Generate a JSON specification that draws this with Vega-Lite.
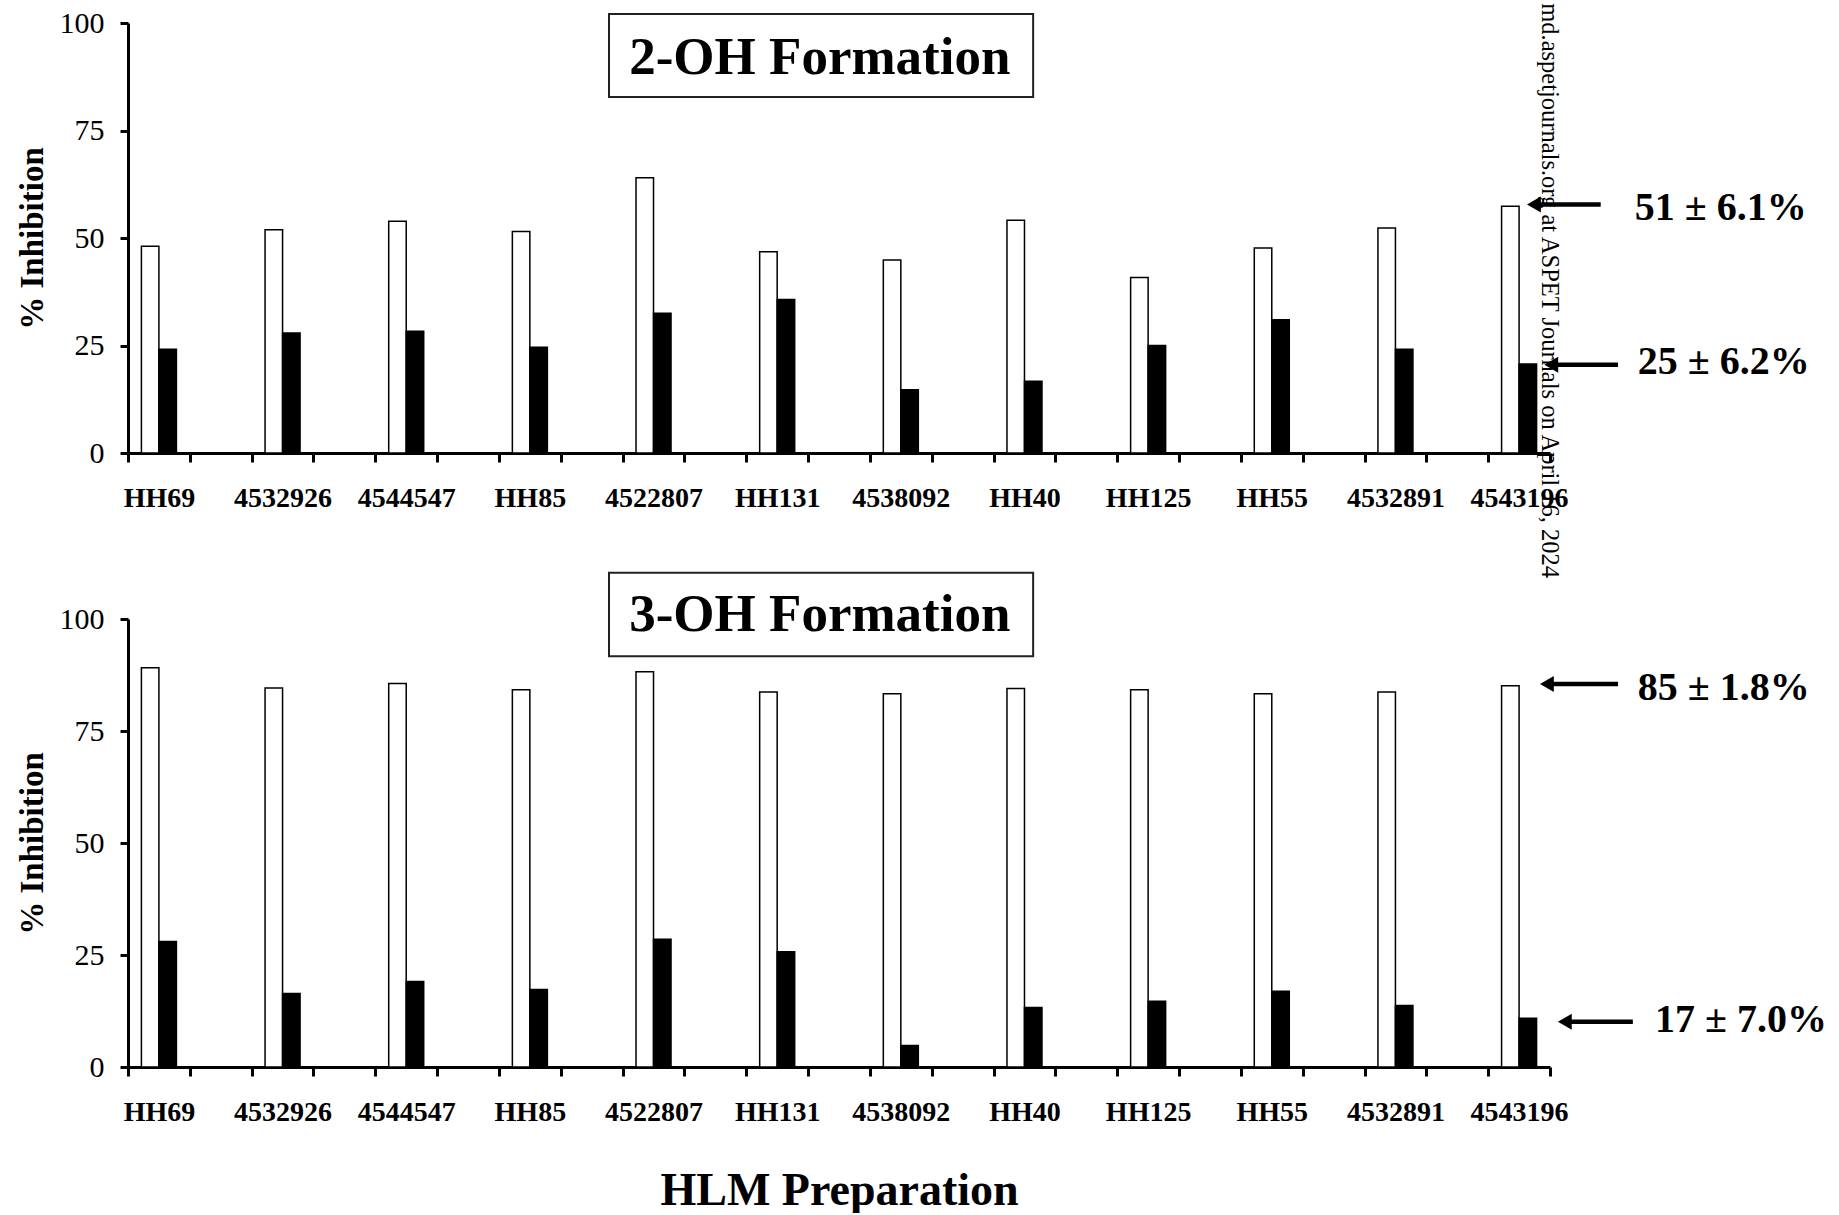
{
  "$schema": "https://vega.github.io/schema/vega-lite/v6.json",
  "background": "white",
  "padding": {"left": 16, "top": 3, "right": 0, "bottom": 0},
  "config": {
    "view": {"stroke": null},
    "font": "Liberation Serif",
    "axis": {"grid": false, "ticks": true, "tickOpacity": 1, "domainColor": "black", "tickColor": "black", "labelColor": "black", "titleColor": "black", "labelFont": "Liberation Serif", "titleFont": "Liberation Serif"}
  },
  "datasets": {
    "bars": [
      {"panel": "2-OH", "prep": "HH69", "series": "open", "value": 48.1},
      {"panel": "2-OH", "prep": "4532926", "series": "open", "value": 51.9},
      {"panel": "2-OH", "prep": "4544547", "series": "open", "value": 53.9},
      {"panel": "2-OH", "prep": "HH85", "series": "open", "value": 51.5},
      {"panel": "2-OH", "prep": "4522807", "series": "open", "value": 64.0},
      {"panel": "2-OH", "prep": "HH131", "series": "open", "value": 46.8},
      {"panel": "2-OH", "prep": "4538092", "series": "open", "value": 44.9},
      {"panel": "2-OH", "prep": "HH40", "series": "open", "value": 54.1},
      {"panel": "2-OH", "prep": "HH125", "series": "open", "value": 40.8},
      {"panel": "2-OH", "prep": "HH55", "series": "open", "value": 47.7},
      {"panel": "2-OH", "prep": "4532891", "series": "open", "value": 52.3},
      {"panel": "2-OH", "prep": "4543196", "series": "open", "value": 57.4},
      {"panel": "2-OH", "prep": "HH69", "series": "filled", "value": 24.1},
      {"panel": "2-OH", "prep": "4532926", "series": "filled", "value": 27.9},
      {"panel": "2-OH", "prep": "4544547", "series": "filled", "value": 28.3},
      {"panel": "2-OH", "prep": "HH85", "series": "filled", "value": 24.6},
      {"panel": "2-OH", "prep": "4522807", "series": "filled", "value": 32.5},
      {"panel": "2-OH", "prep": "HH131", "series": "filled", "value": 35.7},
      {"panel": "2-OH", "prep": "4538092", "series": "filled", "value": 14.7},
      {"panel": "2-OH", "prep": "HH40", "series": "filled", "value": 16.7},
      {"panel": "2-OH", "prep": "HH125", "series": "filled", "value": 25.0},
      {"panel": "2-OH", "prep": "HH55", "series": "filled", "value": 31.0},
      {"panel": "2-OH", "prep": "4532891", "series": "filled", "value": 24.1},
      {"panel": "2-OH", "prep": "4543196", "series": "filled", "value": 20.7},
      {"panel": "3-OH", "prep": "HH69", "series": "open", "value": 89.1},
      {"panel": "3-OH", "prep": "4532926", "series": "open", "value": 84.6},
      {"panel": "3-OH", "prep": "4544547", "series": "open", "value": 85.6},
      {"panel": "3-OH", "prep": "HH85", "series": "open", "value": 84.2},
      {"panel": "3-OH", "prep": "4522807", "series": "open", "value": 88.2},
      {"panel": "3-OH", "prep": "HH131", "series": "open", "value": 83.7},
      {"panel": "3-OH", "prep": "4538092", "series": "open", "value": 83.3},
      {"panel": "3-OH", "prep": "HH40", "series": "open", "value": 84.5},
      {"panel": "3-OH", "prep": "HH125", "series": "open", "value": 84.2},
      {"panel": "3-OH", "prep": "HH55", "series": "open", "value": 83.3},
      {"panel": "3-OH", "prep": "4532891", "series": "open", "value": 83.7},
      {"panel": "3-OH", "prep": "4543196", "series": "open", "value": 85.1},
      {"panel": "3-OH", "prep": "HH69", "series": "filled", "value": 28.0},
      {"panel": "3-OH", "prep": "4532926", "series": "filled", "value": 16.4},
      {"panel": "3-OH", "prep": "4544547", "series": "filled", "value": 19.1},
      {"panel": "3-OH", "prep": "HH85", "series": "filled", "value": 17.3},
      {"panel": "3-OH", "prep": "4522807", "series": "filled", "value": 28.5},
      {"panel": "3-OH", "prep": "HH131", "series": "filled", "value": 25.7},
      {"panel": "3-OH", "prep": "4538092", "series": "filled", "value": 4.8},
      {"panel": "3-OH", "prep": "HH40", "series": "filled", "value": 13.3},
      {"panel": "3-OH", "prep": "HH125", "series": "filled", "value": 14.7},
      {"panel": "3-OH", "prep": "HH55", "series": "filled", "value": 16.9},
      {"panel": "3-OH", "prep": "4532891", "series": "filled", "value": 13.7},
      {"panel": "3-OH", "prep": "4543196", "series": "filled", "value": 10.9}
    ]
  },
  "spacing": 166,
  "bounds": "flush",
  "vconcat": [
    {
      "width": 1422,
      "height": 430,
      "resolve": {"scale": {"x": "independent"}},
      "layer": [
        {
          "data": {"name": "bars"},
          "transform": [{"filter": "datum.panel === '2-OH'"}],
          "mark": {"type": "bar", "stroke": "black", "strokeWidth": 1.5},
          "encoding": {
            "x": {"field": "prep", "type": "nominal",
              "scale": {"domain": ["HH69","_1","4532926","_2","4544547","_3","HH85","_4","4522807","_5","HH131","_6","4538092","_7","HH40","_8","HH125","_9","HH55","_10","4532891","_11","4543196"], "paddingInner": 0, "paddingOuter": 0},
              "axis": {"title": null, "ticks": true, "tickBand": "extent", "tickColor": "black", "tickOpacity": 1, "labelExpr": "indexof(datum.label, '_') === 0 ? '' : datum.label", "labelFontSize": 28, "labelFontWeight": "bold", "labelAngle": 0, "labelPadding": 22, "tickSize": 9, "tickWidth": 3, "domainWidth": 3, "labelOverlap": false}},
            "xOffset": {"field": "series", "type": "nominal", "scale": {"domain": ["open", "filled"], "paddingInner": 0, "paddingOuter": 0.766}},
            "y": {"field": "value", "type": "quantitative", "scale": {"domain": [0, 100], "nice": false},
              "axis": {"title": "% Inhibition", "values": [0, 25, 50, 75, 100], "ticks": true, "tickColor": "black", "tickOpacity": 1, "titleFontSize": 33, "titleFontWeight": "bold", "titlePadding": 10, "labelFontSize": 30, "labelFontWeight": "normal", "labelPadding": 16, "tickSize": 8, "tickWidth": 3, "domainWidth": 3}},
            "color": {"field": "series", "type": "nominal", "scale": {"domain": ["open", "filled"], "range": ["white", "black"]}, "legend": null}
          }
        },
        {
          "data": {"values": [{}]},
          "mark": {"type": "rect", "fill": "white", "stroke": "#222", "strokeWidth": 2},
          "encoding": {
            "x": {"datum": 7.78, "type": "quantitative", "scale": {"domain": [0, 23], "nice": false, "zero": false}, "axis": null},
            "x2": {"datum": 14.64},
            "y": {"datum": 102.1, "type": "quantitative"},
            "y2": {"datum": 82.8}
          }
        },
        {
          "data": {"values": [{}]},
          "mark": {"type": "text", "text": "2-OH Formation", "font": "Liberation Serif", "fontSize": 53, "fontWeight": "bold", "align": "center", "baseline": "alphabetic", "color": "black"},
          "encoding": {
            "x": {"datum": 11.19, "type": "quantitative", "scale": {"domain": [0, 23], "nice": false, "zero": false}, "axis": null},
            "y": {"datum": 88.1, "type": "quantitative"}
          }
        },
        {
          "data": {"values": [{}]},
          "mark": {"type": "rule", "color": "black", "strokeWidth": 4.5},
          "encoding": {
            "x": {"datum": 22.74, "type": "quantitative", "scale": {"domain": [0, 23], "nice": false, "zero": false}, "axis": null},
            "x2": {"datum": 23.82},
            "y": {"datum": 57.8, "type": "quantitative"}
          }
        },
        {
          "data": {"values": [{}]},
          "mark": {"type": "point", "shape": "triangle-left", "filled": true, "color": "black", "size": 256, "opacity": 1},
          "encoding": {
            "x": {"datum": 22.74, "type": "quantitative", "scale": {"domain": [0, 23], "nice": false, "zero": false}, "axis": null},
            "y": {"datum": 57.8, "type": "quantitative"}
          }
        },
        {
          "data": {"values": [{}]},
          "mark": {"type": "text", "text": "51 ± 6.1%", "font": "Liberation Serif", "fontSize": 40, "fontWeight": "bold", "align": "left", "baseline": "middle", "color": "black"},
          "encoding": {
            "x": {"datum": 24.37, "type": "quantitative", "scale": {"domain": [0, 23], "nice": false, "zero": false}, "axis": null},
            "y": {"datum": 57.0, "type": "quantitative"}
          }
        },
        {
          "data": {"values": [{}]},
          "mark": {"type": "rule", "color": "black", "strokeWidth": 4.5},
          "encoding": {
            "x": {"datum": 23.02, "type": "quantitative", "scale": {"domain": [0, 23], "nice": false, "zero": false}, "axis": null},
            "x2": {"datum": 24.10},
            "y": {"datum": 20.5, "type": "quantitative"}
          }
        },
        {
          "data": {"values": [{}]},
          "mark": {"type": "point", "shape": "triangle-left", "filled": true, "color": "black", "size": 256, "opacity": 1},
          "encoding": {
            "x": {"datum": 23.02, "type": "quantitative", "scale": {"domain": [0, 23], "nice": false, "zero": false}, "axis": null},
            "y": {"datum": 20.5, "type": "quantitative"}
          }
        },
        {
          "data": {"values": [{}]},
          "mark": {"type": "text", "text": "25 ± 6.2%", "font": "Liberation Serif", "fontSize": 40, "fontWeight": "bold", "align": "left", "baseline": "middle", "color": "black"},
          "encoding": {
            "x": {"datum": 24.42, "type": "quantitative", "scale": {"domain": [0, 23], "nice": false, "zero": false}, "axis": null},
            "y": {"datum": 21.2, "type": "quantitative"}
          }
        },
        {
          "data": {"values": [{}]},
          "mark": {"type": "text", "text": "md.aspetjournals.org at ASPET Journals on April 16, 2024", "font": "Liberation Serif", "fontSize": 24.5, "angle": 90, "align": "left", "baseline": "middle", "color": "black"},
          "encoding": {
            "x": {"datum": 22.99, "type": "quantitative", "scale": {"domain": [0, 23], "nice": false, "zero": false}, "axis": null},
            "y": {"datum": 104.6, "type": "quantitative"}
          }
        }
      ]
    },
    {
      "width": 1422,
      "height": 448,
      "resolve": {"scale": {"x": "independent"}},
      "layer": [
        {
          "data": {"name": "bars"},
          "transform": [{"filter": "datum.panel === '3-OH'"}],
          "mark": {"type": "bar", "stroke": "black", "strokeWidth": 1.5},
          "encoding": {
            "x": {"field": "prep", "type": "nominal",
              "scale": {"domain": ["HH69","_1","4532926","_2","4544547","_3","HH85","_4","4522807","_5","HH131","_6","4538092","_7","HH40","_8","HH125","_9","HH55","_10","4532891","_11","4543196"], "paddingInner": 0, "paddingOuter": 0},
              "axis": {"title": "HLM Preparation", "titleFontSize": 46, "titleFontWeight": "bold", "titlePadding": 42, "ticks": true, "tickBand": "extent", "tickColor": "black", "tickOpacity": 1, "labelExpr": "indexof(datum.label, '_') === 0 ? '' : datum.label", "labelFontSize": 28, "labelFontWeight": "bold", "labelAngle": 0, "labelPadding": 22, "tickSize": 9, "tickWidth": 3, "domainWidth": 3, "labelOverlap": false}},
            "xOffset": {"field": "series", "type": "nominal", "scale": {"domain": ["open", "filled"], "paddingInner": 0, "paddingOuter": 0.766}},
            "y": {"field": "value", "type": "quantitative", "scale": {"domain": [0, 100], "nice": false},
              "axis": {"title": "% Inhibition", "values": [0, 25, 50, 75, 100], "ticks": true, "tickColor": "black", "tickOpacity": 1, "titleFontSize": 33, "titleFontWeight": "bold", "titlePadding": 10, "labelFontSize": 30, "labelFontWeight": "normal", "labelPadding": 16, "tickSize": 8, "tickWidth": 3, "domainWidth": 3}},
            "color": {"field": "series", "type": "nominal", "scale": {"domain": ["open", "filled"], "range": ["white", "black"]}, "legend": null}
          }
        },
        {
          "data": {"values": [{}]},
          "mark": {"type": "rect", "fill": "white", "stroke": "#222", "strokeWidth": 2},
          "encoding": {
            "x": {"datum": 7.78, "type": "quantitative", "scale": {"domain": [0, 23], "nice": false, "zero": false}, "axis": null},
            "x2": {"datum": 14.64},
            "y": {"datum": 110.3, "type": "quantitative"},
            "y2": {"datum": 91.7}
          }
        },
        {
          "data": {"values": [{}]},
          "mark": {"type": "text", "text": "3-OH Formation", "font": "Liberation Serif", "fontSize": 53, "fontWeight": "bold", "align": "center", "baseline": "alphabetic", "color": "black"},
          "encoding": {
            "x": {"datum": 11.19, "type": "quantitative", "scale": {"domain": [0, 23], "nice": false, "zero": false}, "axis": null},
            "y": {"datum": 97.3, "type": "quantitative"}
          }
        },
        {
          "data": {"values": [{}]},
          "mark": {"type": "rule", "color": "black", "strokeWidth": 4.5},
          "encoding": {
            "x": {"datum": 22.95, "type": "quantitative", "scale": {"domain": [0, 23], "nice": false, "zero": false}, "axis": null},
            "x2": {"datum": 24.10},
            "y": {"datum": 85.5, "type": "quantitative"}
          }
        },
        {
          "data": {"values": [{}]},
          "mark": {"type": "point", "shape": "triangle-left", "filled": true, "color": "black", "size": 256, "opacity": 1},
          "encoding": {
            "x": {"datum": 22.95, "type": "quantitative", "scale": {"domain": [0, 23], "nice": false, "zero": false}, "axis": null},
            "y": {"datum": 85.5, "type": "quantitative"}
          }
        },
        {
          "data": {"values": [{}]},
          "mark": {"type": "text", "text": "85 ± 1.8%", "font": "Liberation Serif", "fontSize": 40, "fontWeight": "bold", "align": "left", "baseline": "middle", "color": "black"},
          "encoding": {
            "x": {"datum": 24.42, "type": "quantitative", "scale": {"domain": [0, 23], "nice": false, "zero": false}, "axis": null},
            "y": {"datum": 84.6, "type": "quantitative"}
          }
        },
        {
          "data": {"values": [{}]},
          "mark": {"type": "rule", "color": "black", "strokeWidth": 4.5},
          "encoding": {
            "x": {"datum": 23.24, "type": "quantitative", "scale": {"domain": [0, 23], "nice": false, "zero": false}, "axis": null},
            "x2": {"datum": 24.34},
            "y": {"datum": 10.1, "type": "quantitative"}
          }
        },
        {
          "data": {"values": [{}]},
          "mark": {"type": "point", "shape": "triangle-left", "filled": true, "color": "black", "size": 256, "opacity": 1},
          "encoding": {
            "x": {"datum": 23.24, "type": "quantitative", "scale": {"domain": [0, 23], "nice": false, "zero": false}, "axis": null},
            "y": {"datum": 10.1, "type": "quantitative"}
          }
        },
        {
          "data": {"values": [{}]},
          "mark": {"type": "text", "text": "17 ± 7.0%", "font": "Liberation Serif", "fontSize": 40, "fontWeight": "bold", "align": "left", "baseline": "middle", "color": "black"},
          "encoding": {
            "x": {"datum": 24.70, "type": "quantitative", "scale": {"domain": [0, 23], "nice": false, "zero": false}, "axis": null},
            "y": {"datum": 10.5, "type": "quantitative"}
          }
        }
      ]
    }
  ]
}
